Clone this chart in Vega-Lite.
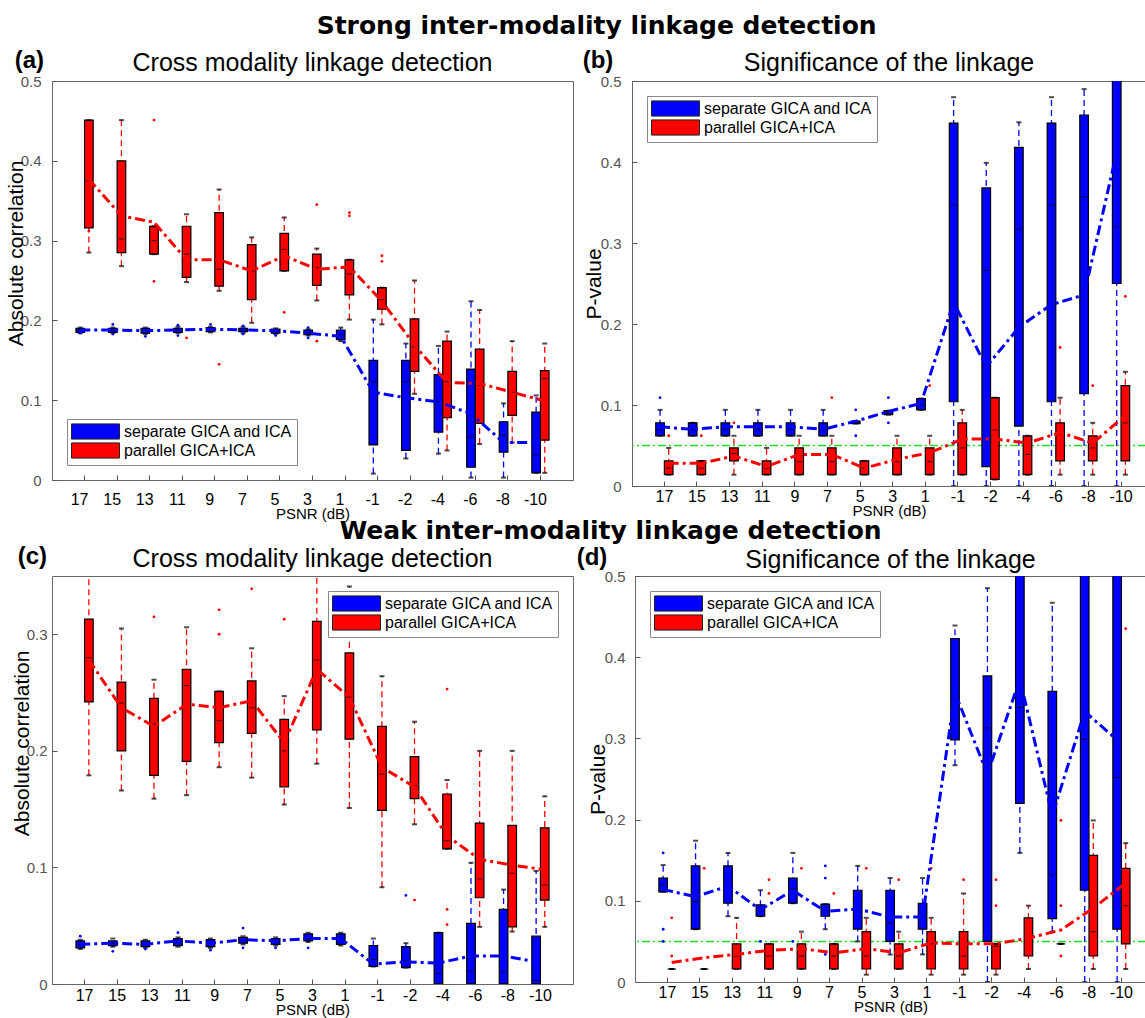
{
"$schema":"https://vega.github.io/schema/vega-lite/v6.json",
"padding":{"left":4,"top":13,"right":0,"bottom":0},
"background":"white",
"datasets":{
"A":[
{"p":"17","m":"separate GICA and ICA","q1":0.185,"q3":0.190,"med":0.188,"lo":0.184,"hi":0.191,"mean":0.188},
{"p":"15","m":"separate GICA and ICA","q1":0.185,"q3":0.190,"med":0.187,"lo":0.184,"hi":0.191,"mean":0.188},
{"p":"13","m":"separate GICA and ICA","q1":0.184,"q3":0.190,"med":0.187,"lo":0.183,"hi":0.191,"mean":0.187},
{"p":"11","m":"separate GICA and ICA","q1":0.185,"q3":0.190,"med":0.188,"lo":0.184,"hi":0.192,"mean":0.188},
{"p":"9","m":"separate GICA and ICA","q1":0.186,"q3":0.191,"med":0.189,"lo":0.185,"hi":0.192,"mean":0.189},
{"p":"7","m":"separate GICA and ICA","q1":0.186,"q3":0.190,"med":0.188,"lo":0.184,"hi":0.192,"mean":0.188},
{"p":"5","m":"separate GICA and ICA","q1":0.184,"q3":0.189,"med":0.187,"lo":0.183,"hi":0.190,"mean":0.187},
{"p":"3","m":"separate GICA and ICA","q1":0.182,"q3":0.188,"med":0.185,"lo":0.181,"hi":0.189,"mean":0.184},
{"p":"1","m":"separate GICA and ICA","q1":0.176,"q3":0.188,"med":0.182,"lo":0.174,"hi":0.191,"mean":0.180},
{"p":"-1","m":"separate GICA and ICA","q1":0.044,"q3":0.150,"med":0.123,"lo":0.008,"hi":0.201,"mean":0.110},
{"p":"-2","m":"separate GICA and ICA","q1":0.037,"q3":0.150,"med":0.123,"lo":0.027,"hi":0.171,"mean":0.103},
{"p":"-4","m":"separate GICA and ICA","q1":0.060,"q3":0.132,"med":0.098,"lo":0.033,"hi":0.168,"mean":0.098},
{"p":"-6","m":"separate GICA and ICA","q1":0.016,"q3":0.139,"med":0.054,"lo":0.003,"hi":0.224,"mean":0.083},
{"p":"-8","m":"separate GICA and ICA","q1":0.035,"q3":0.073,"med":0.056,"lo":0.003,"hi":0.096,"mean":0.047},
{"p":"-10","m":"separate GICA and ICA","q1":0.009,"q3":0.085,"med":0.031,"lo":0.009,"hi":0.106,"mean":0.047},
{"p":"17","m":"parallel GICA+ICA","q1":0.316,"q3":0.451,"med":0.375,"lo":0.285,"hi":0.451,"mean":0.377},
{"p":"15","m":"parallel GICA+ICA","q1":0.285,"q3":0.400,"med":0.302,"lo":0.268,"hi":0.451,"mean":0.331},
{"p":"13","m":"parallel GICA+ICA","q1":0.283,"q3":0.318,"med":0.300,"lo":0.283,"hi":0.318,"mean":0.323},
{"p":"11","m":"parallel GICA+ICA","q1":0.254,"q3":0.318,"med":0.283,"lo":0.248,"hi":0.333,"mean":0.276},
{"p":"9","m":"parallel GICA+ICA","q1":0.243,"q3":0.335,"med":0.264,"lo":0.237,"hi":0.364,"mean":0.276},
{"p":"7","m":"parallel GICA+ICA","q1":0.226,"q3":0.295,"med":0.262,"lo":0.197,"hi":0.304,"mean":0.262},
{"p":"5","m":"parallel GICA+ICA","q1":0.262,"q3":0.309,"med":0.289,"lo":0.262,"hi":0.329,"mean":0.281},
{"p":"3","m":"parallel GICA+ICA","q1":0.244,"q3":0.283,"med":0.266,"lo":0.225,"hi":0.290,"mean":0.264},
{"p":"1","m":"parallel GICA+ICA","q1":0.232,"q3":0.276,"med":0.258,"lo":0.201,"hi":0.276,"mean":0.267},
{"p":"-1","m":"parallel GICA+ICA","q1":0.214,"q3":0.241,"med":0.226,"lo":0.195,"hi":0.241,"mean":0.224},
{"p":"-2","m":"parallel GICA+ICA","q1":0.136,"q3":0.202,"med":0.167,"lo":0.108,"hi":0.250,"mean":0.169},
{"p":"-4","m":"parallel GICA+ICA","q1":0.078,"q3":0.174,"med":0.123,"lo":0.037,"hi":0.186,"mean":0.122},
{"p":"-6","m":"parallel GICA+ICA","q1":0.071,"q3":0.164,"med":0.119,"lo":0.045,"hi":0.213,"mean":0.121},
{"p":"-8","m":"parallel GICA+ICA","q1":0.081,"q3":0.136,"med":0.110,"lo":0.047,"hi":0.174,"mean":0.110},
{"p":"-10","m":"parallel GICA+ICA","q1":0.050,"q3":0.137,"med":0.127,"lo":0.009,"hi":0.171,"mean":0.099}
],
"Ao":[
{"p":"17","m":"separate GICA and ICA","v":0.184},{"p":"15","m":"separate GICA and ICA","v":0.195},{"p":"15","m":"separate GICA and ICA","v":0.183},
{"p":"13","m":"separate GICA and ICA","v":0.180},{"p":"11","m":"separate GICA and ICA","v":0.194},{"p":"11","m":"separate GICA and ICA","v":0.181},
{"p":"9","m":"separate GICA and ICA","v":0.195},{"p":"7","m":"separate GICA and ICA","v":0.193},{"p":"7","m":"separate GICA and ICA","v":0.183},
{"p":"5","m":"separate GICA and ICA","v":0.181},{"p":"3","m":"separate GICA and ICA","v":0.191},{"p":"3","m":"separate GICA and ICA","v":0.178},
{"p":"17","m":"parallel GICA+ICA","v":0.312},{"p":"13","m":"parallel GICA+ICA","v":0.451},{"p":"13","m":"parallel GICA+ICA","v":0.249},
{"p":"11","m":"parallel GICA+ICA","v":0.178},{"p":"9","m":"parallel GICA+ICA","v":0.145},{"p":"5","m":"parallel GICA+ICA","v":0.210},
{"p":"3","m":"parallel GICA+ICA","v":0.345},{"p":"3","m":"parallel GICA+ICA","v":0.174},{"p":"1","m":"parallel GICA+ICA","v":0.335},
{"p":"1","m":"parallel GICA+ICA","v":0.331},{"p":"-1","m":"parallel GICA+ICA","v":0.281},{"p":"-1","m":"parallel GICA+ICA","v":0.274}
],
"B":[
{"p":"17","m":"separate GICA and ICA","q1":0.062,"q3":0.078,"med":0.069,"lo":0.062,"hi":0.094,"mean":0.073},
{"p":"15","m":"separate GICA and ICA","q1":0.062,"q3":0.078,"med":0.069,"lo":0.062,"hi":0.078,"mean":0.070},
{"p":"13","m":"separate GICA and ICA","q1":0.062,"q3":0.078,"med":0.070,"lo":0.062,"hi":0.094,"mean":0.073},
{"p":"11","m":"separate GICA and ICA","q1":0.062,"q3":0.078,"med":0.070,"lo":0.062,"hi":0.094,"mean":0.073},
{"p":"9","m":"separate GICA and ICA","q1":0.062,"q3":0.078,"med":0.070,"lo":0.062,"hi":0.094,"mean":0.073},
{"p":"7","m":"separate GICA and ICA","q1":0.062,"q3":0.078,"med":0.069,"lo":0.062,"hi":0.094,"mean":0.070},
{"p":"5","m":"separate GICA and ICA","q1":0.077,"q3":0.080,"med":0.078,"lo":0.077,"hi":0.080,"mean":0.080},
{"p":"3","m":"separate GICA and ICA","q1":0.088,"q3":0.093,"med":0.090,"lo":0.088,"hi":0.093,"mean":0.092},
{"p":"1","m":"separate GICA and ICA","q1":0.094,"q3":0.108,"med":0.100,"lo":0.094,"hi":0.108,"mean":0.102},
{"p":"-1","m":"separate GICA and ICA","q1":0.104,"q3":0.448,"med":0.347,"lo":0,"hi":0.480,"mean":0.227},
{"p":"-2","m":"separate GICA and ICA","q1":0.024,"q3":0.368,"med":0.266,"lo":0,"hi":0.399,"mean":0.147},
{"p":"-4","m":"separate GICA and ICA","q1":0.074,"q3":0.418,"med":0.317,"lo":0,"hi":0.449,"mean":0.196},
{"p":"-6","m":"separate GICA and ICA","q1":0.104,"q3":0.448,"med":0.347,"lo":0,"hi":0.480,"mean":0.224},
{"p":"-8","m":"separate GICA and ICA","q1":0.114,"q3":0.458,"med":0.357,"lo":0,"hi":0.490,"mean":0.236},
{"p":"-10","m":"separate GICA and ICA","q1":0.250,"q3":0.600,"med":0.320,"lo":0,"hi":0.650,"mean":0.412},
{"p":"17","m":"parallel GICA+ICA","q1":0.014,"q3":0.031,"med":0.022,"lo":0.014,"hi":0.047,"mean":0.028},
{"p":"15","m":"parallel GICA+ICA","q1":0.014,"q3":0.031,"med":0.022,"lo":0.014,"hi":0.031,"mean":0.028},
{"p":"13","m":"parallel GICA+ICA","q1":0.031,"q3":0.047,"med":0.040,"lo":0.014,"hi":0.062,"mean":0.037},
{"p":"11","m":"parallel GICA+ICA","q1":0.014,"q3":0.031,"med":0.022,"lo":0.014,"hi":0.047,"mean":0.024},
{"p":"9","m":"parallel GICA+ICA","q1":0.014,"q3":0.047,"med":0.030,"lo":0.014,"hi":0.062,"mean":0.039},
{"p":"7","m":"parallel GICA+ICA","q1":0.014,"q3":0.047,"med":0.030,"lo":0.014,"hi":0.062,"mean":0.039},
{"p":"5","m":"parallel GICA+ICA","q1":0.014,"q3":0.031,"med":0.022,"lo":0.014,"hi":0.031,"mean":0.022},
{"p":"3","m":"parallel GICA+ICA","q1":0.014,"q3":0.047,"med":0.030,"lo":0.014,"hi":0.062,"mean":0.033},
{"p":"1","m":"parallel GICA+ICA","q1":0.014,"q3":0.047,"med":0.030,"lo":0.014,"hi":0.062,"mean":0.041},
{"p":"-1","m":"parallel GICA+ICA","q1":0.014,"q3":0.078,"med":0.047,"lo":0.014,"hi":0.094,"mean":0.058},
{"p":"-2","m":"parallel GICA+ICA","q1":0.008,"q3":0.109,"med":0.069,"lo":0.008,"hi":0.109,"mean":0.058},
{"p":"-4","m":"parallel GICA+ICA","q1":0.014,"q3":0.062,"med":0.039,"lo":0.014,"hi":0.062,"mean":0.053},
{"p":"-6","m":"parallel GICA+ICA","q1":0.031,"q3":0.078,"med":0.064,"lo":0.014,"hi":0.109,"mean":0.066},
{"p":"-8","m":"parallel GICA+ICA","q1":0.031,"q3":0.062,"med":0.047,"lo":0.014,"hi":0.078,"mean":0.053},
{"p":"-10","m":"parallel GICA+ICA","q1":0.031,"q3":0.124,"med":0.078,"lo":0.014,"hi":0.141,"mean":0.087}
],
"Bo":[
{"p":"17","m":"separate GICA and ICA","v":0.109},{"p":"5","m":"separate GICA and ICA","v":0.094},{"p":"5","m":"separate GICA and ICA","v":0.062},
{"p":"3","m":"separate GICA and ICA","v":0.109},{"p":"3","m":"separate GICA and ICA","v":0.078},
{"p":"17","m":"parallel GICA+ICA","v":0.062},{"p":"15","m":"parallel GICA+ICA","v":0.062},{"p":"13","m":"parallel GICA+ICA","v":0.078},
{"p":"7","m":"parallel GICA+ICA","v":0.109},{"p":"1","m":"parallel GICA+ICA","v":0.124},{"p":"-4","m":"parallel GICA+ICA","v":0.203},
{"p":"-6","m":"parallel GICA+ICA","v":0.171},{"p":"-8","m":"parallel GICA+ICA","v":0.124},{"p":"-10","m":"parallel GICA+ICA","v":0.234}
],
"C":[
{"p":"17","m":"separate GICA and ICA","q1":0.031,"q3":0.037,"med":0.034,"lo":0.030,"hi":0.038,"mean":0.034},
{"p":"15","m":"separate GICA and ICA","q1":0.033,"q3":0.037,"med":0.035,"lo":0.032,"hi":0.039,"mean":0.035},
{"p":"13","m":"separate GICA and ICA","q1":0.032,"q3":0.037,"med":0.034,"lo":0.031,"hi":0.038,"mean":0.034},
{"p":"11","m":"separate GICA and ICA","q1":0.033,"q3":0.039,"med":0.037,"lo":0.032,"hi":0.040,"mean":0.037},
{"p":"9","m":"separate GICA and ICA","q1":0.032,"q3":0.038,"med":0.035,"lo":0.031,"hi":0.039,"mean":0.035},
{"p":"7","m":"separate GICA and ICA","q1":0.035,"q3":0.040,"med":0.038,"lo":0.034,"hi":0.041,"mean":0.038},
{"p":"5","m":"separate GICA and ICA","q1":0.034,"q3":0.039,"med":0.037,"lo":0.033,"hi":0.040,"mean":0.037},
{"p":"3","m":"separate GICA and ICA","q1":0.037,"q3":0.043,"med":0.039,"lo":0.036,"hi":0.044,"mean":0.039},
{"p":"1","m":"separate GICA and ICA","q1":0.034,"q3":0.043,"med":0.039,"lo":0.033,"hi":0.044,"mean":0.039},
{"p":"-1","m":"separate GICA and ICA","q1":0.015,"q3":0.033,"med":0.021,"lo":0.015,"hi":0.039,"mean":0.017},
{"p":"-2","m":"separate GICA and ICA","q1":0.014,"q3":0.032,"med":0.020,"lo":0.014,"hi":0.035,"mean":0.019},
{"p":"-4","m":"separate GICA and ICA","q1":0,"q3":0.044,"med":0.009,"lo":0,"hi":0.044,"mean":0.018},
{"p":"-6","m":"separate GICA and ICA","q1":0,"q3":0.052,"med":0.011,"lo":0,"hi":0.104,"mean":0.024},
{"p":"-8","m":"separate GICA and ICA","q1":0,"q3":0.064,"med":0.010,"lo":0,"hi":0.081,"mean":0.024},
{"p":"-10","m":"separate GICA and ICA","q1":0,"q3":0.041,"med":0.003,"lo":0,"hi":0.097,"mean":0.019},
{"p":"17","m":"parallel GICA+ICA","q1":0.242,"q3":0.313,"med":0.280,"lo":0.179,"hi":0.360,"mean":0.278},
{"p":"15","m":"parallel GICA+ICA","q1":0.200,"q3":0.259,"med":0.241,"lo":0.166,"hi":0.305,"mean":0.237},
{"p":"13","m":"parallel GICA+ICA","q1":0.179,"q3":0.245,"med":0.223,"lo":0.159,"hi":0.261,"mean":0.221},
{"p":"11","m":"parallel GICA+ICA","q1":0.191,"q3":0.270,"med":0.256,"lo":0.162,"hi":0.306,"mean":0.240},
{"p":"9","m":"parallel GICA+ICA","q1":0.207,"q3":0.251,"med":0.226,"lo":0.186,"hi":0.251,"mean":0.237},
{"p":"7","m":"parallel GICA+ICA","q1":0.215,"q3":0.260,"med":0.237,"lo":0.177,"hi":0.288,"mean":0.243},
{"p":"5","m":"parallel GICA+ICA","q1":0.169,"q3":0.227,"med":0.200,"lo":0.154,"hi":0.247,"mean":0.207},
{"p":"3","m":"parallel GICA+ICA","q1":0.218,"q3":0.311,"med":0.278,"lo":0.189,"hi":0.360,"mean":0.270},
{"p":"1","m":"parallel GICA+ICA","q1":0.210,"q3":0.284,"med":0.246,"lo":0.151,"hi":0.341,"mean":0.246},
{"p":"-1","m":"parallel GICA+ICA","q1":0.149,"q3":0.221,"med":0.180,"lo":0.083,"hi":0.264,"mean":0.186},
{"p":"-2","m":"parallel GICA+ICA","q1":0.159,"q3":0.195,"med":0.170,"lo":0.137,"hi":0.225,"mean":0.169},
{"p":"-4","m":"parallel GICA+ICA","q1":0.116,"q3":0.163,"med":0.123,"lo":0.116,"hi":0.175,"mean":0.127},
{"p":"-6","m":"parallel GICA+ICA","q1":0.074,"q3":0.138,"med":0.090,"lo":0.049,"hi":0.200,"mean":0.107},
{"p":"-8","m":"parallel GICA+ICA","q1":0.049,"q3":0.136,"med":0.095,"lo":0.045,"hi":0.200,"mean":0.102},
{"p":"-10","m":"parallel GICA+ICA","q1":0.072,"q3":0.134,"med":0.085,"lo":0.049,"hi":0.161,"mean":0.098}
],
"Co":[
{"p":"17","m":"separate GICA and ICA","v":0.041},{"p":"15","m":"separate GICA and ICA","v":0.028},{"p":"13","m":"separate GICA and ICA","v":0.030},
{"p":"11","m":"separate GICA and ICA","v":0.044},{"p":"9","m":"separate GICA and ICA","v":0.029},{"p":"7","m":"separate GICA and ICA","v":0.048},
{"p":"7","m":"separate GICA and ICA","v":0.031},{"p":"5","m":"separate GICA and ICA","v":0.031},{"p":"3","m":"separate GICA and ICA","v":0.031},
{"p":"-2","m":"separate GICA and ICA","v":0.076},
{"p":"13","m":"parallel GICA+ICA","v":0.315},{"p":"9","m":"parallel GICA+ICA","v":0.321},{"p":"9","m":"parallel GICA+ICA","v":0.300},
{"p":"7","m":"parallel GICA+ICA","v":0.339},{"p":"5","m":"parallel GICA+ICA","v":0.313},{"p":"-2","m":"parallel GICA+ICA","v":0.072},
{"p":"-4","m":"parallel GICA+ICA","v":0.253},{"p":"-4","m":"parallel GICA+ICA","v":0.064},{"p":"-4","m":"parallel GICA+ICA","v":0.051}
],
"D":[
{"p":"17","m":"separate GICA and ICA","q1":0.111,"q3":0.128,"med":0.120,"lo":0.111,"hi":0.144,"mean":0.114},
{"p":"15","m":"separate GICA and ICA","q1":0.065,"q3":0.143,"med":0.099,"lo":0.065,"hi":0.174,"mean":0.105},
{"p":"13","m":"separate GICA and ICA","q1":0.097,"q3":0.143,"med":0.118,"lo":0.081,"hi":0.159,"mean":0.118},
{"p":"11","m":"separate GICA and ICA","q1":0.081,"q3":0.095,"med":0.088,"lo":0.081,"hi":0.113,"mean":0.089},
{"p":"9","m":"separate GICA and ICA","q1":0.097,"q3":0.128,"med":0.115,"lo":0.097,"hi":0.159,"mean":0.113},
{"p":"7","m":"separate GICA and ICA","q1":0.081,"q3":0.096,"med":0.088,"lo":0.065,"hi":0.096,"mean":0.087},
{"p":"5","m":"separate GICA and ICA","q1":0.065,"q3":0.113,"med":0.091,"lo":0.050,"hi":0.143,"mean":0.090},
{"p":"3","m":"separate GICA and ICA","q1":0.050,"q3":0.113,"med":0.073,"lo":0.034,"hi":0.128,"mean":0.080},
{"p":"1","m":"separate GICA and ICA","q1":0.065,"q3":0.097,"med":0.081,"lo":0.034,"hi":0.128,"mean":0.080},
{"p":"-1","m":"separate GICA and ICA","q1":0.298,"q3":0.423,"med":0.354,"lo":0.267,"hi":0.439,"mean":0.356},
{"p":"-2","m":"separate GICA and ICA","q1":0.050,"q3":0.377,"med":0.313,"lo":0,"hi":0.485,"mean":0.256},
{"p":"-4","m":"separate GICA and ICA","q1":0.220,"q3":0.600,"med":0.338,"lo":0.159,"hi":0.650,"mean":0.373},
{"p":"-6","m":"separate GICA and ICA","q1":0.078,"q3":0.358,"med":0.132,"lo":0.062,"hi":0.467,"mean":0.205},
{"p":"-8","m":"separate GICA and ICA","q1":0.113,"q3":0.600,"med":0.299,"lo":0,"hi":0.650,"mean":0.333},
{"p":"-10","m":"separate GICA and ICA","q1":0.065,"q3":0.600,"med":0.252,"lo":0,"hi":0.650,"mean":0.298},
{"p":"17","m":"parallel GICA+ICA","q1":0.016,"q3":0.016,"med":0.016,"lo":0.016,"hi":0.016,"mean":0.024},
{"p":"15","m":"parallel GICA+ICA","q1":0.016,"q3":0.016,"med":0.016,"lo":0.016,"hi":0.016,"mean":0.030},
{"p":"13","m":"parallel GICA+ICA","q1":0.016,"q3":0.047,"med":0.032,"lo":0.016,"hi":0.079,"mean":0.034},
{"p":"11","m":"parallel GICA+ICA","q1":0.016,"q3":0.047,"med":0.032,"lo":0.016,"hi":0.047,"mean":0.039},
{"p":"9","m":"parallel GICA+ICA","q1":0.016,"q3":0.047,"med":0.032,"lo":0.016,"hi":0.062,"mean":0.041},
{"p":"7","m":"parallel GICA+ICA","q1":0.016,"q3":0.047,"med":0.032,"lo":0.016,"hi":0.047,"mean":0.036},
{"p":"5","m":"parallel GICA+ICA","q1":0.016,"q3":0.062,"med":0.032,"lo":0.009,"hi":0.079,"mean":0.041},
{"p":"3","m":"parallel GICA+ICA","q1":0.016,"q3":0.047,"med":0.032,"lo":0.016,"hi":0.062,"mean":0.036},
{"p":"1","m":"parallel GICA+ICA","q1":0.016,"q3":0.062,"med":0.047,"lo":0.009,"hi":0.079,"mean":0.048},
{"p":"-1","m":"parallel GICA+ICA","q1":0.016,"q3":0.062,"med":0.032,"lo":0.009,"hi":0.109,"mean":0.047},
{"p":"-2","m":"parallel GICA+ICA","q1":0.016,"q3":0.047,"med":0.044,"lo":0.009,"hi":0.047,"mean":0.047},
{"p":"-4","m":"parallel GICA+ICA","q1":0.032,"q3":0.079,"med":0.054,"lo":0.016,"hi":0.094,"mean":0.054},
{"p":"-6","m":"parallel GICA+ICA","q1":0.047,"q3":0.047,"med":0.047,"lo":0.047,"hi":0.047,"mean":0.064},
{"p":"-8","m":"parallel GICA+ICA","q1":0.032,"q3":0.156,"med":0.062,"lo":0.016,"hi":0.199,"mean":0.091},
{"p":"-10","m":"parallel GICA+ICA","q1":0.047,"q3":0.140,"med":0.094,"lo":0.016,"hi":0.171,"mean":0.122}
],
"Do":[
{"p":"17","m":"separate GICA and ICA","v":0.159},{"p":"17","m":"separate GICA and ICA","v":0.065},{"p":"17","m":"separate GICA and ICA","v":0.050},
{"p":"11","m":"separate GICA and ICA","v":0.050},{"p":"9","m":"separate GICA and ICA","v":0.050},{"p":"7","m":"separate GICA and ICA","v":0.143},
{"p":"7","m":"separate GICA and ICA","v":0.128},{"p":"7","m":"separate GICA and ICA","v":0.034},
{"p":"17","m":"parallel GICA+ICA","v":0.079},{"p":"17","m":"parallel GICA+ICA","v":0.032},{"p":"15","m":"parallel GICA+ICA","v":0.140},
{"p":"11","m":"parallel GICA+ICA","v":0.126},{"p":"11","m":"parallel GICA+ICA","v":0.109},{"p":"9","m":"parallel GICA+ICA","v":0.140},
{"p":"7","m":"parallel GICA+ICA","v":0.109},{"p":"5","m":"parallel GICA+ICA","v":0.140},{"p":"3","m":"parallel GICA+ICA","v":0.126},
{"p":"1","m":"parallel GICA+ICA","v":0.140},{"p":"-1","m":"parallel GICA+ICA","v":0.126},{"p":"-2","m":"parallel GICA+ICA","v":0.126},
{"p":"-2","m":"parallel GICA+ICA","v":0.094},{"p":"-6","m":"parallel GICA+ICA","v":0.199},{"p":"-6","m":"parallel GICA+ICA","v":0.094},
{"p":"-6","m":"parallel GICA+ICA","v":0.032},{"p":"-10","m":"parallel GICA+ICA","v":0.435}
],
"thr":[{"threshold":0.05}]
},
"columns":1,
"align":"none",
"spacing":-4,
"resolve":{"scale":{"x":"independent","y":"independent","xOffset":"independent","color":"independent","fill":"independent"},"axis":{"x":"independent","y":"independent"},"legend":{"color":"independent","fill":"independent"}},
"concat":[
{
"title":{"text":"Strong inter-modality linkage detection","font":"DejaVu Sans","fontSize":25,"fontWeight":"bold","offset":10,"anchor":"start","frame":"bounds","dx":312,"color":"black"},
"spacing":8,
"resolve":{"scale":{"x":"independent","y":"independent","xOffset":"independent","color":"independent","fill":"independent"},"axis":{"x":"independent","y":"independent"},"legend":{"color":"independent","fill":"independent"}},
"hconcat":[
{
"title":{"text":"(a)","anchor":"start","fontSize":24,"fontWeight":"bold","offset":-22,"dx":10,"color":"black"},
"resolve":{"scale":{"color":"independent","fill":"independent"},"legend":{"color":"independent","fill":"independent"}},
"vconcat":[{
"width":521,"height":399,
"title":{"text":"Cross modality linkage detection","fontSize":25,"fontWeight":"normal","offset":-2,"color":"black"},
"data":{"name":"A"},
"layer":[
{"mark":{"type":"rule","strokeDash":[6,4],"strokeWidth":1.3,"clip":true},
 "encoding":{
  "x":{"field":"p","type":"ordinal","sort":["17","15","13","11","9","7","5","3","1","-1","-2","-4","-6","-8","-10"],"scale":{"paddingInner":0,"paddingOuter":0.5},"axis":{"title":"PSNR (dB)","titleFontSize":15,"titleFontWeight":"normal","titlePadding":-1,"labelFontSize":16,"labelColor":"black","labelAngle":0,"labelPadding":16,"labelOffset":-5,"tickSize":-5,"tickColor":"#555","domain":false,"grid":false}},
  "xOffset":{"field":"m","type":"nominal","sort":["separate GICA and ICA","parallel GICA+ICA"],"scale":{"paddingInner":0,"paddingOuter":0.89}},
  "y":{"field":"lo","type":"quantitative","scale":{"domain":[0,0.5],"nice":false},"axis":{"title":"Absolute correlation","values":[0,0.1,0.2,0.3,0.4,0.5],"labelExpr":"datum.value == 0 ? '0' : format(datum.value, '.1f')","labelFontSize":15,"labelColor":"#555","labelPadding":16,"tickSize":-5,"tickColor":"#555","titleFontSize":21,"titleFontWeight":"normal","titleColor":"black","titlePadding":-6,"titleY":172,"domain":false,"grid":false}},
  "y2":{"field":"hi"},
  "color":{"field":"m","type":"nominal","scale":{"domain":["parallel GICA+ICA","separate GICA and ICA"],"range":["#ff0000","#0000ff"]},"legend":null}
 }},
{"mark":{"type":"bar","stroke":"black","strokeWidth":1.2,"clip":true},
 "encoding":{
  "x":{"field":"p","type":"ordinal","sort":["17","15","13","11","9","7","5","3","1","-1","-2","-4","-6","-8","-10"]},
  "xOffset":{"field":"m","type":"nominal","sort":["separate GICA and ICA","parallel GICA+ICA"]},
  "y":{"field":"q1","type":"quantitative"},"y2":{"field":"q3"},
  "fill":{"field":"m","type":"nominal","scale":{"domain":["separate GICA and ICA","parallel GICA+ICA"],"range":["#0000ff","#ff0000"]},"legend":{"title":null,"orient":"bottom-left","offset":15,"fillColor":"white","strokeColor":"#888","padding":4,"symbolType":"M-1,-0.95H5V0.95H-1Z","symbolSize":256,"symbolStrokeColor":"#222","symbolStrokeWidth":1,"labelFontSize":16,"labelColor":"black","labelOffset":36,"rowPadding":-2,"labelLimit":400}}
 }},
{"mark":{"type":"tick","color":"black","size":5,"thickness":1.2,"clip":true},
 "encoding":{
  "x":{"field":"p","type":"ordinal","sort":["17","15","13","11","9","7","5","3","1","-1","-2","-4","-6","-8","-10"]},
  "xOffset":{"field":"m","type":"nominal","sort":["separate GICA and ICA","parallel GICA+ICA"]},
  "y":{"field":"med","type":"quantitative"}
 }},
{"mark":{"type":"tick","color":"black","size":5,"thickness":2,"clip":true},
 "encoding":{
  "x":{"field":"p","type":"ordinal","sort":["17","15","13","11","9","7","5","3","1","-1","-2","-4","-6","-8","-10"]},
  "xOffset":{"field":"m","type":"nominal","sort":["separate GICA and ICA","parallel GICA+ICA"]},
  "y":{"field":"lo","type":"quantitative"}
 }},
{"mark":{"type":"tick","color":"black","size":5,"thickness":2,"clip":true},
 "encoding":{
  "x":{"field":"p","type":"ordinal","sort":["17","15","13","11","9","7","5","3","1","-1","-2","-4","-6","-8","-10"]},
  "xOffset":{"field":"m","type":"nominal","sort":["separate GICA and ICA","parallel GICA+ICA"]},
  "y":{"field":"hi","type":"quantitative"}
 }},
{"data":{"name":"Ao"},"mark":{"type":"point","filled":true,"size":8,"opacity":1,"clip":true},
 "encoding":{
  "x":{"field":"p","type":"ordinal","sort":["17","15","13","11","9","7","5","3","1","-1","-2","-4","-6","-8","-10"]},
  "xOffset":{"field":"m","type":"nominal","sort":["separate GICA and ICA","parallel GICA+ICA"]},
  "y":{"field":"v","type":"quantitative"},
  "color":{"field":"m","type":"nominal","legend":null}
 }},
{"mark":{"type":"line","strokeWidth":3,"strokeDash":[10,4,3,4],"clip":true},
 "encoding":{
  "x":{"field":"p","type":"ordinal","sort":["17","15","13","11","9","7","5","3","1","-1","-2","-4","-6","-8","-10"]},
  "xOffset":{"field":"m","type":"nominal","sort":["separate GICA and ICA","parallel GICA+ICA"]},
  "y":{"field":"mean","type":"quantitative"},
  "color":{"field":"m","type":"nominal","legend":null}
 }}
]
}]
},
{
"title":{"text":"(b)","anchor":"start","fontSize":24,"fontWeight":"bold","offset":-22,"color":"black"},
"resolve":{"scale":{"color":"independent","fill":"independent"},"legend":{"color":"independent","fill":"independent"}},
"vconcat":[{
"width":514,"height":405,
"title":{"text":"Significance of the linkage","fontSize":25,"fontWeight":"normal","offset":-2,"color":"black"},
"data":{"name":"B"},
"layer":[
{"mark":{"type":"rule","strokeDash":[6,4],"strokeWidth":1.3,"clip":true},
 "encoding":{
  "x":{"field":"p","type":"ordinal","sort":["17","15","13","11","9","7","5","3","1","-1","-2","-4","-6","-8","-10"],"scale":{"paddingInner":0,"paddingOuter":0.379,"align":0.65},"axis":{"title":"PSNR (dB)","titleFontSize":15,"titleFontWeight":"normal","titlePadding":-1,"labelFontSize":16,"labelColor":"black","labelAngle":0,"labelPadding":7,"tickSize":-5,"tickColor":"#555","domain":false,"grid":false}},
  "xOffset":{"field":"m","type":"nominal","sort":["separate GICA and ICA","parallel GICA+ICA"],"scale":{"paddingInner":0,"paddingOuter":0.89}},
  "y":{"field":"lo","type":"quantitative","scale":{"domain":[0,0.5],"nice":false},"axis":{"title":"P-value","values":[0,0.1,0.2,0.3,0.4,0.5],"labelExpr":"datum.value == 0 ? '0' : format(datum.value, '.1f')","labelFontSize":15,"labelColor":"#555","labelPadding":16,"tickSize":-5,"tickColor":"#555","titleFontSize":21,"titleFontWeight":"normal","titleColor":"black","titlePadding":-4,"domain":false,"grid":false}},
  "y2":{"field":"hi"},
  "color":{"field":"m","type":"nominal","scale":{"domain":["parallel GICA+ICA","separate GICA and ICA"],"range":["#ff0000","#0000ff"]},"legend":null}
 }},
{"data":{"name":"thr"},"mark":{"type":"rule","color":"#22dd22","strokeDash":[8,3,2,3],"strokeWidth":1.5},
 "encoding":{"y":{"field":"threshold","type":"quantitative"}}},
{"mark":{"type":"bar","stroke":"black","strokeWidth":1.2,"clip":true},
 "encoding":{
  "x":{"field":"p","type":"ordinal","sort":["17","15","13","11","9","7","5","3","1","-1","-2","-4","-6","-8","-10"]},
  "xOffset":{"field":"m","type":"nominal","sort":["separate GICA and ICA","parallel GICA+ICA"]},
  "y":{"field":"q1","type":"quantitative"},"y2":{"field":"q3"},
  "fill":{"field":"m","type":"nominal","scale":{"domain":["separate GICA and ICA","parallel GICA+ICA"],"range":["#0000ff","#ff0000"]},"legend":{"title":null,"orient":"top-left","offset":15,"fillColor":"white","strokeColor":"#888","padding":4,"symbolType":"M-1,-0.95H5V0.95H-1Z","symbolSize":256,"symbolStrokeColor":"#222","symbolStrokeWidth":1,"labelFontSize":16,"labelColor":"black","labelOffset":36,"rowPadding":-2,"labelLimit":400}}
 }},
{"mark":{"type":"tick","color":"black","size":5,"thickness":1.2,"clip":true},
 "encoding":{
  "x":{"field":"p","type":"ordinal","sort":["17","15","13","11","9","7","5","3","1","-1","-2","-4","-6","-8","-10"]},
  "xOffset":{"field":"m","type":"nominal","sort":["separate GICA and ICA","parallel GICA+ICA"]},
  "y":{"field":"med","type":"quantitative"}
 }},
{"mark":{"type":"tick","color":"black","size":5,"thickness":2,"clip":true},
 "encoding":{
  "x":{"field":"p","type":"ordinal","sort":["17","15","13","11","9","7","5","3","1","-1","-2","-4","-6","-8","-10"]},
  "xOffset":{"field":"m","type":"nominal","sort":["separate GICA and ICA","parallel GICA+ICA"]},
  "y":{"field":"lo","type":"quantitative"}
 }},
{"mark":{"type":"tick","color":"black","size":5,"thickness":2,"clip":true},
 "encoding":{
  "x":{"field":"p","type":"ordinal","sort":["17","15","13","11","9","7","5","3","1","-1","-2","-4","-6","-8","-10"]},
  "xOffset":{"field":"m","type":"nominal","sort":["separate GICA and ICA","parallel GICA+ICA"]},
  "y":{"field":"hi","type":"quantitative"}
 }},
{"data":{"name":"Bo"},"mark":{"type":"point","filled":true,"size":8,"opacity":1,"clip":true},
 "encoding":{
  "x":{"field":"p","type":"ordinal","sort":["17","15","13","11","9","7","5","3","1","-1","-2","-4","-6","-8","-10"]},
  "xOffset":{"field":"m","type":"nominal","sort":["separate GICA and ICA","parallel GICA+ICA"]},
  "y":{"field":"v","type":"quantitative"},
  "color":{"field":"m","type":"nominal","legend":null}
 }},
{"mark":{"type":"line","strokeWidth":3,"strokeDash":[10,4,3,4],"clip":true},
 "encoding":{
  "x":{"field":"p","type":"ordinal","sort":["17","15","13","11","9","7","5","3","1","-1","-2","-4","-6","-8","-10"]},
  "xOffset":{"field":"m","type":"nominal","sort":["separate GICA and ICA","parallel GICA+ICA"]},
  "y":{"field":"mean","type":"quantitative"},
  "color":{"field":"m","type":"nominal","legend":null}
 }}
]
}]
}
]
},
{
"title":{"text":"Weak inter-modality linkage detection","font":"DejaVu Sans","fontSize":25,"fontWeight":"bold","offset":1,"anchor":"start","frame":"bounds","dx":329,"color":"black"},
"spacing":2,
"resolve":{"scale":{"x":"independent","y":"independent","xOffset":"independent","color":"independent","fill":"independent"},"axis":{"x":"independent","y":"independent"},"legend":{"color":"independent","fill":"independent"}},
"hconcat":[
{
"title":{"text":"(c)","anchor":"start","fontSize":24,"fontWeight":"bold","offset":-22,"dx":7,"color":"black"},
"resolve":{"scale":{"color":"independent","fill":"independent"},"legend":{"color":"independent","fill":"independent"}},
"vconcat":[{
"width":521,"height":408,
"title":{"text":"Cross modality linkage detection","fontSize":25,"fontWeight":"normal","offset":4,"color":"black"},
"data":{"name":"C"},
"layer":[
{"mark":{"type":"rule","strokeDash":[6,4],"strokeWidth":1.3,"clip":true},
 "encoding":{
  "x":{"field":"p","type":"ordinal","sort":["17","15","13","11","9","7","5","3","1","-1","-2","-4","-6","-8","-10"],"scale":{"paddingInner":0,"paddingOuter":0.5},"axis":{"title":"PSNR (dB)","titleFontSize":15,"titleFontWeight":"normal","titlePadding":-1,"labelFontSize":16,"labelColor":"black","labelAngle":0,"labelPadding":8,"tickSize":-5,"tickColor":"#555","domain":false,"grid":false}},
  "xOffset":{"field":"m","type":"nominal","sort":["separate GICA and ICA","parallel GICA+ICA"],"scale":{"paddingInner":0,"paddingOuter":0.89}},
  "y":{"field":"lo","type":"quantitative","scale":{"domain":[0,0.35],"nice":false},"axis":{"title":"Absolute correlation","values":[0,0.1,0.2,0.3],"labelExpr":"datum.value == 0 ? '0' : format(datum.value, '.1f')","labelFontSize":15,"labelColor":"#555","labelPadding":10,"tickSize":-5,"tickColor":"#555","titleFontSize":21,"titleFontWeight":"normal","titleColor":"black","titlePadding":-6,"titleY":167,"domain":false,"grid":false}},
  "y2":{"field":"hi"},
  "color":{"field":"m","type":"nominal","scale":{"domain":["parallel GICA+ICA","separate GICA and ICA"],"range":["#ff0000","#0000ff"]},"legend":null}
 }},
{"mark":{"type":"bar","stroke":"black","strokeWidth":1.2,"clip":true},
 "encoding":{
  "x":{"field":"p","type":"ordinal","sort":["17","15","13","11","9","7","5","3","1","-1","-2","-4","-6","-8","-10"]},
  "xOffset":{"field":"m","type":"nominal","sort":["separate GICA and ICA","parallel GICA+ICA"]},
  "y":{"field":"q1","type":"quantitative"},"y2":{"field":"q3"},
  "fill":{"field":"m","type":"nominal","scale":{"domain":["separate GICA and ICA","parallel GICA+ICA"],"range":["#0000ff","#ff0000"]},"legend":{"title":null,"orient":"top-right","offset":15,"fillColor":"white","strokeColor":"#888","padding":4,"symbolType":"M-1,-0.95H5V0.95H-1Z","symbolSize":256,"symbolStrokeColor":"#222","symbolStrokeWidth":1,"labelFontSize":16,"labelColor":"black","labelOffset":36,"rowPadding":-2,"labelLimit":400}}
 }},
{"mark":{"type":"tick","color":"black","size":5,"thickness":1.2,"clip":true},
 "encoding":{
  "x":{"field":"p","type":"ordinal","sort":["17","15","13","11","9","7","5","3","1","-1","-2","-4","-6","-8","-10"]},
  "xOffset":{"field":"m","type":"nominal","sort":["separate GICA and ICA","parallel GICA+ICA"]},
  "y":{"field":"med","type":"quantitative"}
 }},
{"mark":{"type":"tick","color":"black","size":5,"thickness":2,"clip":true},
 "encoding":{
  "x":{"field":"p","type":"ordinal","sort":["17","15","13","11","9","7","5","3","1","-1","-2","-4","-6","-8","-10"]},
  "xOffset":{"field":"m","type":"nominal","sort":["separate GICA and ICA","parallel GICA+ICA"]},
  "y":{"field":"lo","type":"quantitative"}
 }},
{"mark":{"type":"tick","color":"black","size":5,"thickness":2,"clip":true},
 "encoding":{
  "x":{"field":"p","type":"ordinal","sort":["17","15","13","11","9","7","5","3","1","-1","-2","-4","-6","-8","-10"]},
  "xOffset":{"field":"m","type":"nominal","sort":["separate GICA and ICA","parallel GICA+ICA"]},
  "y":{"field":"hi","type":"quantitative"}
 }},
{"data":{"name":"Co"},"mark":{"type":"point","filled":true,"size":8,"opacity":1,"clip":true},
 "encoding":{
  "x":{"field":"p","type":"ordinal","sort":["17","15","13","11","9","7","5","3","1","-1","-2","-4","-6","-8","-10"]},
  "xOffset":{"field":"m","type":"nominal","sort":["separate GICA and ICA","parallel GICA+ICA"]},
  "y":{"field":"v","type":"quantitative"},
  "color":{"field":"m","type":"nominal","legend":null}
 }},
{"mark":{"type":"line","strokeWidth":3,"strokeDash":[10,4,3,4],"clip":true},
 "encoding":{
  "x":{"field":"p","type":"ordinal","sort":["17","15","13","11","9","7","5","3","1","-1","-2","-4","-6","-8","-10"]},
  "xOffset":{"field":"m","type":"nominal","sort":["separate GICA and ICA","parallel GICA+ICA"]},
  "y":{"field":"mean","type":"quantitative"},
  "color":{"field":"m","type":"nominal","legend":null}
 }}
]
}]
},
{
"title":{"text":"(d)","anchor":"start","fontSize":24,"fontWeight":"bold","offset":-22,"dx":-10,"color":"black"},
"resolve":{"scale":{"color":"independent","fill":"independent"},"legend":{"color":"independent","fill":"independent"}},
"vconcat":[{
"width":511,"height":406,
"title":{"text":"Significance of the linkage","fontSize":25,"fontWeight":"normal","offset":-4,"color":"black"},
"data":{"name":"D"},
"layer":[
{"mark":{"type":"rule","strokeDash":[6,4],"strokeWidth":1.3,"clip":true},
 "encoding":{
  "x":{"field":"p","type":"ordinal","sort":["17","15","13","11","9","7","5","3","1","-1","-2","-4","-6","-8","-10"],"scale":{"paddingInner":0,"paddingOuter":0.379,"align":0.66},"axis":{"title":"PSNR (dB)","titleFontSize":15,"titleFontWeight":"normal","titlePadding":-1,"labelFontSize":16,"labelColor":"black","labelAngle":0,"labelPadding":7,"tickSize":-5,"tickColor":"#555","domain":false,"grid":false}},
  "xOffset":{"field":"m","type":"nominal","sort":["separate GICA and ICA","parallel GICA+ICA"],"scale":{"paddingInner":0,"paddingOuter":0.89}},
  "y":{"field":"lo","type":"quantitative","scale":{"domain":[0,0.5],"nice":false},"axis":{"title":"P-value","values":[0,0.1,0.2,0.3,0.4,0.5],"labelExpr":"datum.value == 0 ? '0' : format(datum.value, '.1f')","labelFontSize":15,"labelColor":"#555","labelPadding":15,"tickSize":-5,"tickColor":"#555","titleFontSize":21,"titleFontWeight":"normal","titleColor":"black","titlePadding":-4,"domain":false,"grid":false}},
  "y2":{"field":"hi"},
  "color":{"field":"m","type":"nominal","scale":{"domain":["parallel GICA+ICA","separate GICA and ICA"],"range":["#ff0000","#0000ff"]},"legend":null}
 }},
{"data":{"name":"thr"},"mark":{"type":"rule","color":"#22dd22","strokeDash":[8,3,2,3],"strokeWidth":1.5},
 "encoding":{"y":{"field":"threshold","type":"quantitative"}}},
{"mark":{"type":"bar","stroke":"black","strokeWidth":1.2,"clip":true},
 "encoding":{
  "x":{"field":"p","type":"ordinal","sort":["17","15","13","11","9","7","5","3","1","-1","-2","-4","-6","-8","-10"]},
  "xOffset":{"field":"m","type":"nominal","sort":["separate GICA and ICA","parallel GICA+ICA"]},
  "y":{"field":"q1","type":"quantitative"},"y2":{"field":"q3"},
  "fill":{"field":"m","type":"nominal","scale":{"domain":["separate GICA and ICA","parallel GICA+ICA"],"range":["#0000ff","#ff0000"]},"legend":{"title":null,"orient":"top-left","offset":15,"fillColor":"white","strokeColor":"#888","padding":4,"symbolType":"M-1,-0.95H5V0.95H-1Z","symbolSize":256,"symbolStrokeColor":"#222","symbolStrokeWidth":1,"labelFontSize":16,"labelColor":"black","labelOffset":36,"rowPadding":-2,"labelLimit":400}}
 }},
{"mark":{"type":"tick","color":"black","size":5,"thickness":1.2,"clip":true},
 "encoding":{
  "x":{"field":"p","type":"ordinal","sort":["17","15","13","11","9","7","5","3","1","-1","-2","-4","-6","-8","-10"]},
  "xOffset":{"field":"m","type":"nominal","sort":["separate GICA and ICA","parallel GICA+ICA"]},
  "y":{"field":"med","type":"quantitative"}
 }},
{"mark":{"type":"tick","color":"black","size":5,"thickness":2,"clip":true},
 "encoding":{
  "x":{"field":"p","type":"ordinal","sort":["17","15","13","11","9","7","5","3","1","-1","-2","-4","-6","-8","-10"]},
  "xOffset":{"field":"m","type":"nominal","sort":["separate GICA and ICA","parallel GICA+ICA"]},
  "y":{"field":"lo","type":"quantitative"}
 }},
{"mark":{"type":"tick","color":"black","size":5,"thickness":2,"clip":true},
 "encoding":{
  "x":{"field":"p","type":"ordinal","sort":["17","15","13","11","9","7","5","3","1","-1","-2","-4","-6","-8","-10"]},
  "xOffset":{"field":"m","type":"nominal","sort":["separate GICA and ICA","parallel GICA+ICA"]},
  "y":{"field":"hi","type":"quantitative"}
 }},
{"data":{"name":"Do"},"mark":{"type":"point","filled":true,"size":8,"opacity":1,"clip":true},
 "encoding":{
  "x":{"field":"p","type":"ordinal","sort":["17","15","13","11","9","7","5","3","1","-1","-2","-4","-6","-8","-10"]},
  "xOffset":{"field":"m","type":"nominal","sort":["separate GICA and ICA","parallel GICA+ICA"]},
  "y":{"field":"v","type":"quantitative"},
  "color":{"field":"m","type":"nominal","legend":null}
 }},
{"mark":{"type":"line","strokeWidth":3,"strokeDash":[10,4,3,4],"clip":true},
 "encoding":{
  "x":{"field":"p","type":"ordinal","sort":["17","15","13","11","9","7","5","3","1","-1","-2","-4","-6","-8","-10"]},
  "xOffset":{"field":"m","type":"nominal","sort":["separate GICA and ICA","parallel GICA+ICA"]},
  "y":{"field":"mean","type":"quantitative"},
  "color":{"field":"m","type":"nominal","legend":null}
 }}
]
}]
}
]
}
],
"config":{
"font":"Liberation Sans",
"view":{"stroke":"#666","strokeWidth":1},
"axis":{"grid":false,"domain":false},
"title":{"color":"black"}
}
}
